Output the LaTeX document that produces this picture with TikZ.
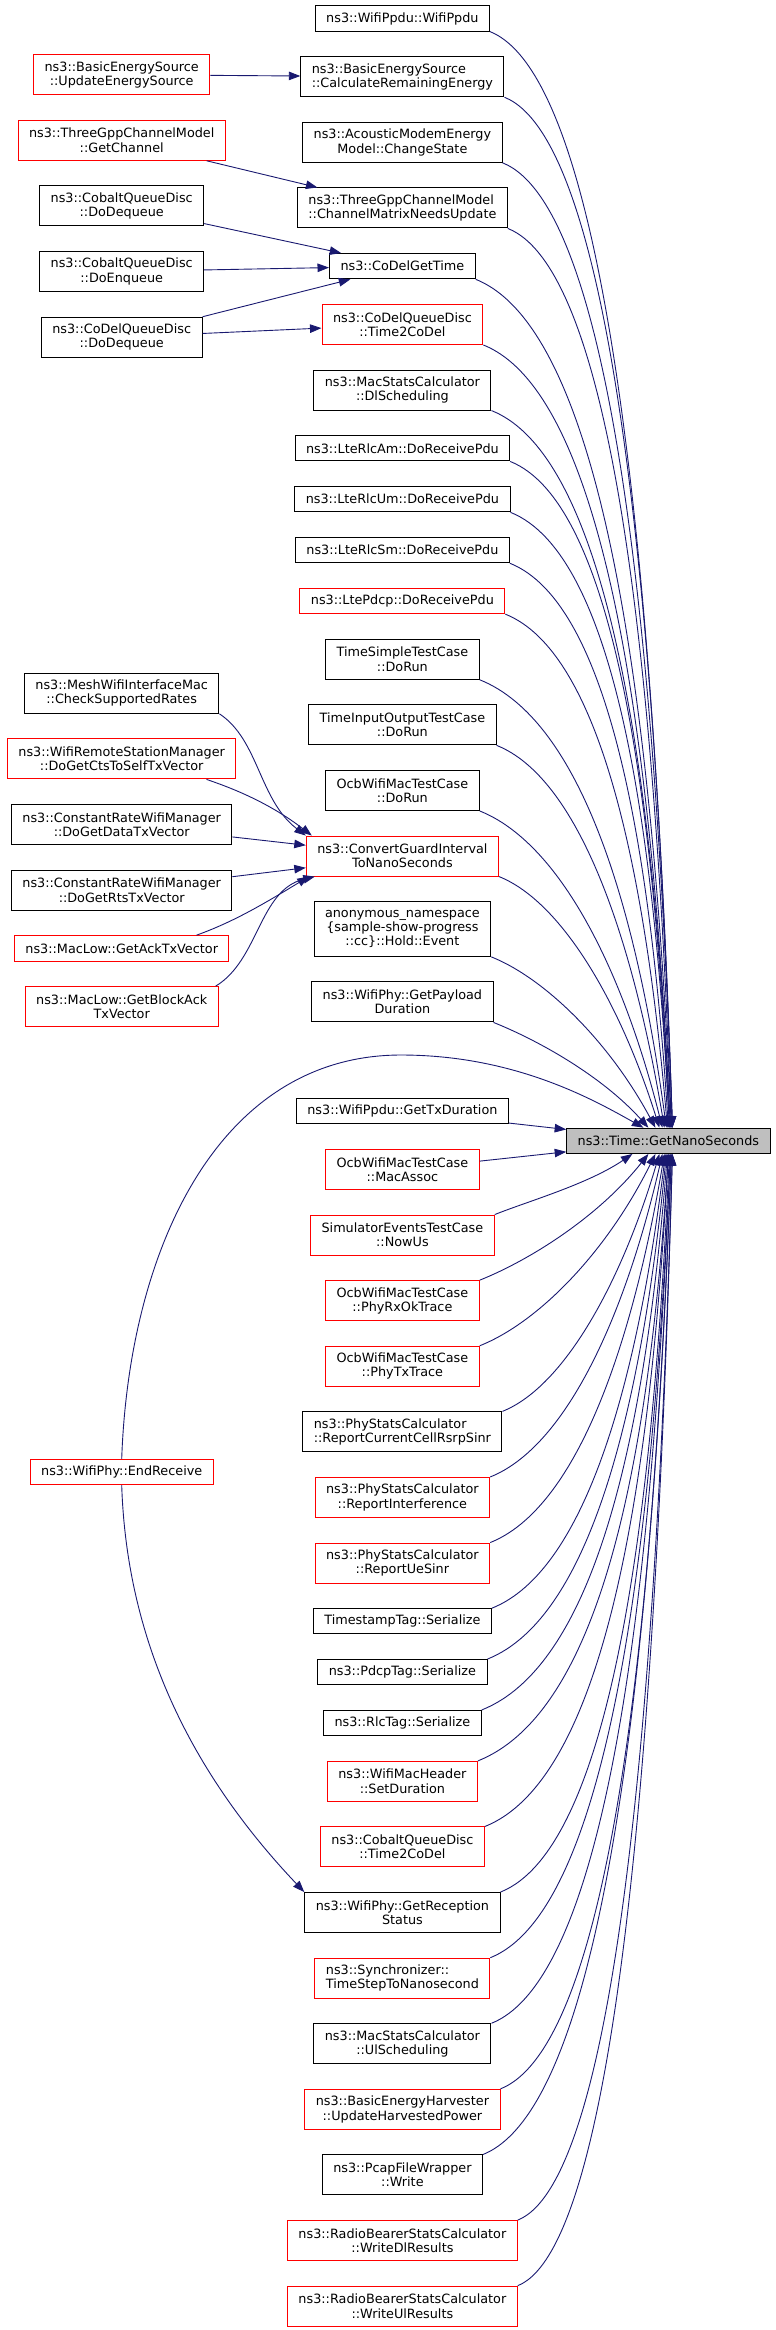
\documentclass[tikz,border=0pt]{standalone}
\usepackage{fontspec}
\setmainfont{DejaVu Sans}
\usetikzlibrary{arrows.meta, positioning, calc}
\definecolor{edgeblue}{HTML}{191970}
\definecolor{hotred}{HTML}{FF0000}
\definecolor{mainfill}{HTML}{BFBFBF}

\begin{document}
\begin{tikzpicture}[
    x=1pt, y=1pt,
    node distance=24.6pt,
    fn/.style={rectangle, draw=black, line width=1pt, fill=white, font=\fontsize{12.8}{14.3}\selectfont, align=center, inner xsep=11pt, inner ysep=2pt, minimum height=25.3pt},
    two/.style={minimum height=40pt},
    three/.style={minimum height=54.7pt},
    hot/.style={draw=hotred},
    main/.style={fill=mainfill},
    call/.style={draw=edgeblue, line width=0.9pt, -{Triangle[length=11.5pt, width=8.5pt]}}
]
\useasboundingbox (0,0) rectangle (776,-2330);

% callers of GetNanoSeconds
\node[fn] (wppdu) at (402.4,-18.5) {ns3::WifiPpdu::WifiPpdu};
\node[fn, two, align=left, below=of wppdu] (calcen) {ns3::BasicEnergySource\\::CalculateRemainingEnergy};
\node[fn, two, below=of calcen] (acoustic) {ns3::AcousticModemEnergy\\Model::ChangeState};
\node[fn, two, align=left, below=of acoustic] (chanmat) {ns3::ThreeGppChannelModel\\::ChannelMatrixNeedsUpdate};
\node[fn, below=of chanmat] (codelget) {ns3::CoDelGetTime};
\node[fn, two, hot, below=of codelget] (t2codel) {ns3::CoDelQueueDisc\\::Time2CoDel};
\node[fn, two, below=of t2codel] (dlsched) {ns3::MacStatsCalculator\\::DlScheduling};
\node[fn, below=of dlsched] (rlcam) {ns3::LteRlcAm::DoReceivePdu};
\node[fn, below=of rlcam] (rlcum) {ns3::LteRlcUm::DoReceivePdu};
\node[fn, below=of rlcum] (rlcsm) {ns3::LteRlcSm::DoReceivePdu};
\node[fn, hot, below=of rlcsm] (pdcp) {ns3::LtePdcp::DoReceivePdu};
\node[fn, two, below=of pdcp] (timesimple) {TimeSimpleTestCase\\::DoRun};
\node[fn, two, below=of timesimple] (timeio) {TimeInputOutputTestCase\\::DoRun};
\node[fn, two, below=of timeio] (ocbrun) {OcbWifiMacTestCase\\::DoRun};
\node[fn, two, hot, below=of ocbrun] (cgi) {ns3::ConvertGuardInterval\\ToNanoSeconds};
\node[fn, three, below=of cgi] (anon) {anonymous\_namespace\\\{sample-show-progress\\::cc\}::Hold::Event};
\node[fn, two, below=of anon] (payload) {ns3::WifiPhy::GetPayload\\Duration};
\node[fn, below=75.6pt of payload] (txdur) {ns3::WifiPpdu::GetTxDuration};
\node[fn, two, hot, below=of txdur] (macassoc) {OcbWifiMacTestCase\\::MacAssoc};
\node[fn, two, hot, below=of macassoc] (nowus) {SimulatorEventsTestCase\\::NowUs};
\node[fn, two, hot, below=of nowus] (phyrx) {OcbWifiMacTestCase\\::PhyRxOkTrace};
\node[fn, two, hot, below=of phyrx] (phytx) {OcbWifiMacTestCase\\::PhyTxTrace};
\node[fn, two, align=left, below=of phytx] (rcc) {ns3::PhyStatsCalculator\\::ReportCurrentCellRsrpSinr};
\node[fn, two, hot, below=of rcc] (rinterf) {ns3::PhyStatsCalculator\\::ReportInterference};
\node[fn, two, hot, below=of rinterf] (ruesinr) {ns3::PhyStatsCalculator\\::ReportUeSinr};
\node[fn, below=of ruesinr] (tstag) {TimestampTag::Serialize};
\node[fn, below=of tstag] (pdcptag) {ns3::PdcpTag::Serialize};
\node[fn, below=of pdcptag] (rlctag) {ns3::RlcTag::Serialize};
\node[fn, two, hot, below=of rlctag] (setdur) {ns3::WifiMacHeader\\::SetDuration};
\node[fn, two, hot, below=of setdur] (cobt2c) {ns3::CobaltQueueDisc\\::Time2CoDel};
\node[fn, two, below=of cobt2c] (grs) {ns3::WifiPhy::GetReception\\Status};
\node[fn, two, hot, align=left, below=of grs] (sync) {ns3::Synchronizer::\\TimeStepToNanosecond};
\node[fn, two, below=of sync] (ulsched) {ns3::MacStatsCalculator\\::UlScheduling};
\node[fn, two, hot, below=of ulsched] (harvest) {ns3::BasicEnergyHarvester\\::UpdateHarvestedPower};
\node[fn, two, below=of harvest] (pcap) {ns3::PcapFileWrapper\\::Write};
\node[fn, two, hot, below=of pcap] (writedl) {ns3::RadioBearerStatsCalculator\\::WriteDlResults};
\node[fn, two, hot, below=of writedl] (writeul) {ns3::RadioBearerStatsCalculator\\::WriteUlResults};

% the function itself
\node[fn, main] (gns) at (668.4,-1140.8) {ns3::Time::GetNanoSeconds};

% second level callers
\node[fn, two, hot] (upd) at (121.7,-74.7) {ns3::BasicEnergySource\\::UpdateEnergySource};
\node[fn, two, hot, below=of upd] (getchan) {ns3::ThreeGppChannelModel\\::GetChannel};
\node[fn, two, below=of getchan] (cobdeq) {ns3::CobaltQueueDisc\\::DoDequeue};
\node[fn, two, below=of cobdeq] (cobenq) {ns3::CobaltQueueDisc\\::DoEnqueue};
\node[fn, two, below=of cobenq] (codeldeq) {ns3::CoDelQueueDisc\\::DoDequeue};

\node[fn, two] (mesh) at (121.7,-693.3) {ns3::MeshWifiInterfaceMac\\::CheckSupportedRates};
\node[fn, two, hot, below=of mesh] (wrsm) {ns3::WifiRemoteStationManager\\::DoGetCtsToSelfTxVector};
\node[fn, two, below=of wrsm] (dogetdata) {ns3::ConstantRateWifiManager\\::DoGetDataTxVector};
\node[fn, two, below=of dogetdata] (dogetrts) {ns3::ConstantRateWifiManager\\::DoGetRtsTxVector};
\node[fn, hot, below=of dogetrts] (getack) {ns3::MacLow::GetAckTxVector};
\node[fn, two, hot, below=of getack] (blockack) {ns3::MacLow::GetBlockAck\\TxVector};

\node[fn, hot] (er) at (121.7,-1472) {ns3::WifiPhy::EndReceive};

% straight calls
\draw[call] (upd) -- (calcen);
\draw[call] (getchan) -- (chanmat);
\draw[call] (cobdeq) -- (codelget);
\draw[call] (cobenq) -- (codelget);
\draw[call] (codeldeq) -- (codelget);
\draw[call] (codeldeq) -- (t2codel);
\draw[call] (dogetdata) -- (cgi);
\draw[call] (dogetrts) -- (cgi);
\draw[call] (txdur) -- (gns);
\draw[call] (macassoc) -- (gns);

% curved calls into ConvertGuardInterval
\draw[call] (mesh.south east) .. controls (259,-740) and (259,-800) .. (cgi.north west);
\draw[call] ([xshift=-30pt]wrsm.south east) .. controls (238,-790) and (272,-805) .. ([xshift=6pt]cgi.north west);
\draw[call] ([xshift=-33pt]getack.north east) .. controls (233,-922) and (262,-905) .. ([xshift=3pt]cgi.south west);
\draw[call] ([xshift=-3pt]blockack.north east) .. controls (259,-960) and (259,-890) .. ([xshift=9pt]cgi.south west);

% EndReceive
\draw[call] (er.north) .. controls (129,-1250) and (218,-1055) .. (401,-1055)
    .. controls (515,-1055) and (594,-1100) .. ([xshift=-25pt]gns.north);
\draw[call] (er.south) .. controls (127,-1650) and (198,-1780) .. (grs.north west);

% fan from above
\foreach \nd/\tx in {wppdu/4, calcen/4, acoustic/4, chanmat/3, codelget/3, t2codel/2, dlsched/2, rlcam/1, rlcum/1, rlcsm/0, pdcp/-1, timesimple/-2, timeio/-4, ocbrun/-6, cgi/-9, anon/-13, payload/-20}
  \draw[call] let \p1=(\nd.south east), \p2=($(gns.north)+(\tx,0)$),
      \n1={min(1,(\y1-\y2)/600)}, \n2={0.2+0.45*\n1}, \n3={0.35-0.25*\n1} in
    (\p1) .. controls ({\x1+\n2*(\x2-\x1)},{\y1-0.4*\n2*(\x2-\x1)})
      and ({\x2-\n3*(\x2-\x1)},{\y2-0.5*(\y2-\y1)}) .. (\p2);

% fan from below
\foreach \nd/\tx in {nowus/-36, phyrx/-20, phytx/-13, rcc/-9, rinterf/-6, ruesinr/-4, tstag/-3, pdcptag/-2, rlctag/-1, setdur/0, cobt2c/0, grs/1, sync/2, ulsched/2, harvest/3, pcap/3, writedl/4, writeul/4}
  \draw[call] let \p1=(\nd.north east), \p2=($(gns.south)+(\tx,0)$),
      \n1={min(1,(\y2-\y1)/600)}, \n2={0.2+0.45*\n1}, \n3={0.35-0.25*\n1} in
    (\p1) .. controls ({\x1+\n2*(\x2-\x1)},{\y1+0.4*\n2*(\x2-\x1)})
      and ({\x2-\n3*(\x2-\x1)},{\y2-0.5*(\y2-\y1)}) .. (\p2);
\end{tikzpicture}
\end{document}
